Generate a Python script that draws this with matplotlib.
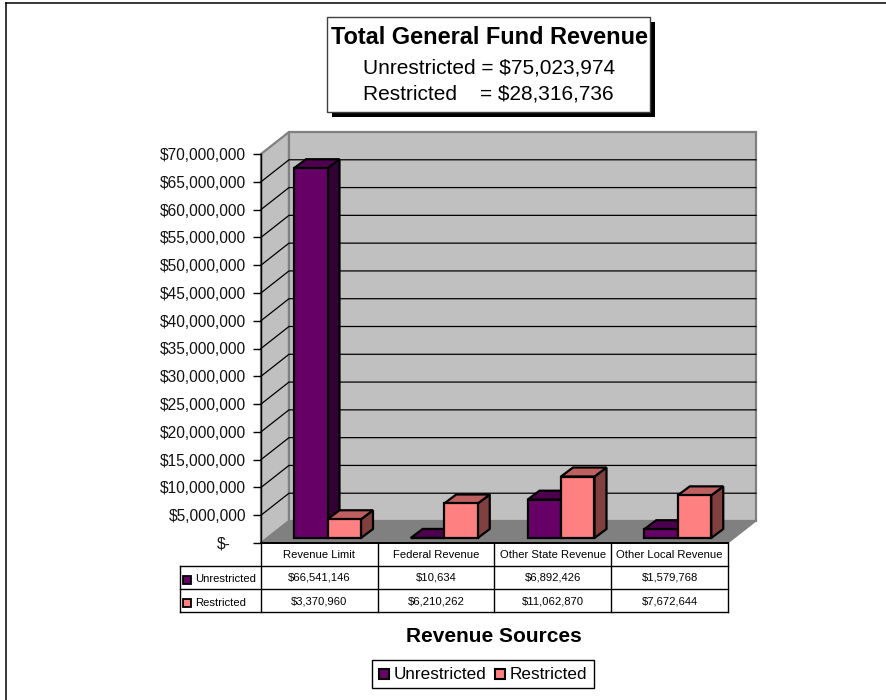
import numpy as np
import matplotlib
matplotlib.use('Agg')
import matplotlib.pyplot as plt
from matplotlib.patches import Polygon, Rectangle
from matplotlib.ticker import FuncFormatter

categories = ['Revenue Limit', 'Federal Revenue', 'Other State Revenue', 'Other Local Revenue']
series_names = ['Unrestricted', 'Restricted']
unrestricted = [66541146, 10634, 6892426, 1579768]
restricted = [3370960, 6210262, 11062870, 7672644]
table_unrestricted = ['$66,541,146', '$10,634', '$6,892,426', '$1,579,768']
table_restricted = ['$3,370,960', '$6,210,262', '$11,062,870', '$7,672,644']
y_ticks = list(range(0, 70000001, 5000000))

W, H = 887, 700
PURPLE = '#660066'
PINK = '#FF8080'
WALL = '#C0C0C0'
FLOOR = '#808080'
TABLE_SIZE = 8.1

plt.rcParams['font.family'] = ['Liberation Sans', 'DejaVu Sans']

fig = plt.figure(figsize=(W / 100, H / 100), dpi=100, facecolor='white')

# axes box is the front plane of the 3D chart
left, right, top, bottom = 261, 728, 154, 543
ax = fig.add_axes([left / W, 1 - bottom / H, (right - left) / W, (bottom - top) / H])
ax.set_xlim(0, 4)
ax.set_ylim(0, 70000000)
ax.patch.set_visible(False)

px = 4 / (right - left)
py = 70000000 / (bottom - top)


def poly(points, face, edge='black', lw=1.0, z=2):
    ax.add_patch(Polygon(points, closed=True, facecolor=face, edgecolor=edge,
                         linewidth=lw, clip_on=False, zorder=z, joinstyle='miter'))


def shade(color, f):
    c = np.array(matplotlib.colors.to_rgb(color))
    return tuple(c * f)


# walls and floor
dx, dy = 28 * px, 22 * py
ymax = 70000000
poly([(0, 0), (dx, dy), (dx, ymax + dy), (0, ymax)], WALL, '#808080', 1.6, 1)
poly([(dx, dy), (4 + dx, dy), (4 + dx, ymax + dy), (dx, ymax + dy)], WALL, '#808080', 1.6, 1)
poly([(0, 0), (dx, dy), (4 + dx, dy), (4, 0)], FLOOR, FLOOR, 0.8, 1)

# gridlines run along the side wall and the back wall
for t in y_ticks[1:-1]:
    ax.plot([0, dx, 4 + dx], [t, t + dy, t + dy], color='black', lw=0.9, zorder=1.5,
            clip_on=False, solid_joinstyle='miter')

# bars
bar_w = 33.5 * px
off = 33 * px
by = 5 * py
sx, sy = 12 * px, 9 * py


def bar3d(x0, val, color, z):
    x1 = x0 + bar_w
    y0 = by
    y1 = by + val
    poly([(x1, y0), (x1 + sx, y0 + sy), (x1 + sx, y1 + sy), (x1, y1)], shade(color, 0.5), 'black', 1.6, z)
    poly([(x0, y1), (x0 + sx, y1 + sy), (x1 + sx, y1 + sy), (x1, y1)], shade(color, 0.75), 'black', 1.6, z)
    poly([(x0, y0), (x1, y0), (x1, y1), (x0, y1)], color, 'black', 1.6, z + 0.1)


for i in range(len(categories)):
    bar3d(i + off, unrestricted[i], PURPLE, 3 + i)
    bar3d(i + off + bar_w, restricted[i], PINK, 3.5 + i)

# value axis
ax.set_yticks(y_ticks)
ax.yaxis.set_major_formatter(FuncFormatter(lambda v, p: '$-' if v == 0 else '${:,.0f}'.format(v)))
ax.tick_params(axis='y', length=5.8, width=1, labelsize=11.2, pad=5, color='black', labelcolor='#111111')
ax.set_xticks([])
for s in ['top', 'right', 'bottom']:
    ax.spines[s].set_visible(False)
ax.spines['left'].set_zorder(2)
ax.spines['left'].set_linewidth(1)
# the zero label sits further in than the others
ax.get_yticklabels()[0].set_x(-0.032)

# data table under the plot
fx = lambda xp: xp / W
fy = lambda yp: 1 - yp / H
col_x = [261, 377.75, 494.5, 611.25, 728]


def hline(xa, xb, yp, c='black', lw=1.0):
    fig.add_artist(plt.Line2D([fx(xa), fx(xb)], [fy(yp), fy(yp)], color=c, lw=lw))


def vline(xp, ya, yb, c='black', lw=1.0):
    fig.add_artist(plt.Line2D([fx(xp), fx(xp)], [fy(ya), fy(yb)], color=c, lw=lw))


hline(261, 728, 543, lw=1.4)
hline(180, 728, 566)
hline(180, 728, 589)
hline(180, 728, 612)
vline(180, 566, 612)
for xp in col_x:
    vline(xp, 543, 612)
for i, name in enumerate(categories):
    mid = fx((col_x[i] + col_x[i + 1]) / 2)
    fig.text(mid, fy(555), name, ha='center', va='center', fontsize=TABLE_SIZE)
    fig.text(mid, fy(578), table_unrestricted[i], ha='center', va='center', fontsize=TABLE_SIZE)
    fig.text(mid, fy(601), table_restricted[i], ha='center', va='center', fontsize=TABLE_SIZE)
for yp, name, color in [(579.5, series_names[0], PURPLE), (602.5, series_names[1], PINK)]:
    fig.add_artist(Rectangle((fx(183), fy(yp + 4)), 8 / W, 8 / H, transform=fig.transFigure,
                             facecolor=color, edgecolor='black', lw=1.3))
    fig.text(fx(195), fy(yp), name, ha='left', va='center', fontsize=TABLE_SIZE)

# title box with drop shadow
fig.add_artist(Rectangle((fx(332), fy(117)), 323 / W, 95 / H, transform=fig.transFigure,
                         facecolor='black', edgecolor='black', lw=0))
fig.add_artist(Rectangle((fx(327), fy(112)), 323 / W, 95 / H, transform=fig.transFigure,
                         facecolor='white', edgecolor='#404040', lw=1))
fig.text(fx(489.5), fy(38), 'Total General Fund Revenue', ha='center', va='center',
         fontsize=16.9, fontweight='bold')
fig.text(fx(489.5), fy(68), 'Unrestricted = $75,023,974', ha='center', va='center', fontsize=15.0)
fig.text(fx(488.5), fy(94), 'Restricted    = $28,316,736', ha='center', va='center', fontsize=15.0)

# axis title and legend
fig.text(fx(494), fy(636), 'Revenue Sources', ha='center', va='center', fontsize=15.0, fontweight='bold')
fig.add_artist(Rectangle((fx(372.5), fy(688)), 221.5 / W, 28 / H, transform=fig.transFigure,
                         facecolor='white', edgecolor='black', lw=1))
for xp, name, color in [(379, series_names[0], PURPLE), (495, series_names[1], PINK)]:
    fig.add_artist(Rectangle((fx(xp), fy(679)), 10 / W, 10 / H, transform=fig.transFigure,
                             facecolor=color, edgecolor='black', lw=1.5))
    fig.text(fx(xp + 14.5), fy(674.5), name, ha='left', va='center', fontsize=12.3)

# outer frame, only the top and left edges show
fig.add_artist(plt.Line2D([6.5 / W, 6.5 / W], [0, 1 - 2.5 / H], color='black', lw=1.1))
fig.add_artist(plt.Line2D([6.5 / W, 1], [1 - 2.5 / H, 1 - 2.5 / H], color='black', lw=1.1))

fig.savefig('out.png', dpi=100)
